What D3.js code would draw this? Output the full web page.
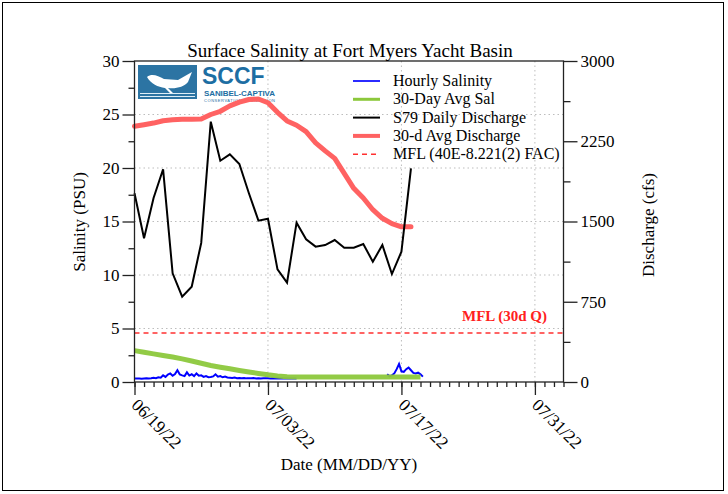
<!DOCTYPE html>
<html>
<head>
<meta charset="utf-8">
<script src="https://cdn.jsdelivr.net/npm/d3@7"></script>
<style>
  body { margin: 0; background: #fff; }
  text { font-family: "Liberation Serif", "Times New Roman", serif; }
</style>
</head>
<body>
<div id="chart"></div>
<script>
// S79 daily discharge (cfs), one value per day from 06/19/22
const dischargeDaily = [
  1764, 1343, 1720, 1988, 1016, 797, 891, 1300, 2433, 2068,
  2128, 2037, 1764, 1508, 1526, 1053, 928, 1489, 1334, 1265,
  1280, 1327, 1255, 1255, 1290, 1124, 1280, 1009, 1218, 1997,
];

// 30-day average discharge (cfs), one value per day from 06/19/22
const dischargeAvg30 = [
  2390, 2405, 2420, 2442, 2450, 2455, 2455, 2458, 2500, 2530,
  2580, 2615, 2640, 2645, 2610, 2520, 2440, 2400, 2340, 2235,
  2160, 2090, 1950, 1810, 1720, 1610, 1530, 1480, 1450, 1450,
];

// 30-day average salinity (PSU), one value per day from 06/19/22
const salAvg30 = [
  2.93, 2.78, 2.63, 2.48, 2.33, 2.16, 1.96, 1.75, 1.54, 1.38,
  1.23, 1.08, 0.94, 0.8, 0.67, 0.57, 0.5, 0.47, 0.46, 0.46,
  0.46, 0.46, 0.46, 0.46, 0.46, 0.46, 0.46, 0.46, 0.46, 0.46, 0.46,
];

// hourly salinity (PSU), sampled every 6 h, two recorded stretches
const hourlyStartA = "2022-06-19T00:00";
const hourlySalA = [
  0.32, 0.32, 0.33, 0.31, 0.33, 0.34, 0.33, 0.35, 0.4, 0.36, 0.44, 0.4,
  0.62, 0.48, 0.7, 0.8, 0.58, 0.74, 1.1, 0.7, 0.62, 0.55, 0.9, 0.6,
  0.72, 0.55, 0.8, 0.58, 0.62, 0.48, 0.56, 0.45, 0.46, 0.52, 0.72, 0.5,
  0.56, 0.44, 0.5, 0.42, 0.4, 0.38, 0.42, 0.36, 0.37, 0.35, 0.38, 0.34,
  0.36, 0.34, 0.37, 0.33, 0.35, 0.33, 0.36, 0.34, 0.35, 0.33, 0.35, 0.33,
  0.34, 0.32, 0.34, 0.33, 0.33, 0.32, 0.33, 0.32, 0.32,
];
const hourlyStartB = "2022-07-15T12:00";
const hourlySalB = [
  0.72, 0.55, 0.62, 0.8, 1.2, 1.68, 1.0, 0.95, 1.2, 1.35,
  1.1, 0.85, 0.8, 0.87, 0.72, 0.5,
];

const mflDischarge = 457;

const dateTicks = ["2022-06-19", "2022-07-03", "2022-07-17", "2022-07-31"];
const salTicks = [0, 5, 10, 15, 20, 25, 30];
const dischargeTicks = [0, 750, 1500, 2250, 3000];

const legendItems = [
  { name: "Hourly Salinity", color: "#2b2bff", width: 2, dash: null },
  { name: "30-Day Avg Sal", color: "#8cc83c", width: 3, dash: null },
  { name: "S79 Daily Discharge", color: "#000", width: 2, dash: null },
  { name: "30-d Avg Discharge", color: "#ff6262", width: 4, dash: null },
  { name: "MFL (40E-8.221(2) FAC)", color: "#ff3030", width: 1.5, dash: "5,4" },
];

const W = 728, H = 494;
const L = 134.5, R = 563.5, T = 61, B = 382;

const parse = d3.timeParse("%Y-%m-%dT%H:%M");
const parseDay = d3.timeParse("%Y-%m-%d");
const start = parseDay("2022-06-19");
const end = parseDay("2022-08-03");

const x = d3.scaleTime().domain([start, end]).range([L, R]);
const ySal = d3.scaleLinear().domain([0, 30]).range([B, T]);
const yQ = d3.scaleLinear().domain([0, 3000]).range([B, T]);

const daily = (arr) => arr.map((v, i) => ({ t: d3.timeDay.offset(start, i), v }));
const sixHourly = (s, arr) =>
  arr.map((v, i) => ({ t: d3.timeHour.offset(parse(s), i * 6), v }));

const svg = d3
  .select("#chart")
  .append("svg")
  .attr("width", W)
  .attr("height", H);

// outer frame
svg
  .append("rect")
  .attr("x", 2.5)
  .attr("y", 2.5)
  .attr("width", 721)
  .attr("height", 488)
  .attr("fill", "none")
  .attr("stroke", "#000");

// grid
const grid = svg.append("g").attr("stroke", "#bdbdbd").attr("stroke-dasharray", "1.5,3");
grid
  .selectAll("line.h")
  .data(salTicks.slice(1, -1))
  .enter()
  .append("line")
  .attr("x1", L)
  .attr("x2", R)
  .attr("y1", (d) => ySal(d))
  .attr("y2", (d) => ySal(d));
grid
  .selectAll("line.v")
  .data(dateTicks.slice(1).map(parseDay))
  .enter()
  .append("line")
  .attr("x1", (d) => x(d))
  .attr("x2", (d) => x(d))
  .attr("y1", T)
  .attr("y2", B);

// logo
const logo = svg.append("g");
logo.append("rect").attr("x", 138).attr("y", 65).attr("width", 59).attr("height", 34).attr("fill", "#2c74a3");
logo
  .append("path")
  .attr("d", "M147,77 C152,73 158,76 164,79 L178,80 L192,72 L188,82 C184,87 176,89 168,88 L174,94 L171,94 L165,88 C158,87 151,84 147,77 Z")
  .attr("fill", "#fff");
[93.5, 96.5].forEach((yy) =>
  logo.append("line").attr("x1", 140).attr("x2", 195).attr("y1", yy).attr("y2", yy).attr("stroke", "#dfeef7").attr("stroke-width", 1)
);
logo
  .append("text")
  .attr("x", 202)
  .attr("y", 84)
  .attr("fill", "#1d6ea3")
  .style("font-family", "'Liberation Sans', Arial, sans-serif")
  .style("font-weight", "bold")
  .style("font-size", "23px")
  .text("SCCF");
logo
  .append("text")
  .attr("x", 204)
  .attr("y", 96)
  .attr("fill", "#1d6ea3")
  .attr("textLength", 71)
  .style("font-family", "'Liberation Sans', Arial, sans-serif")
  .style("font-weight", "bold")
  .style("font-size", "8px")
  .text("SANIBEL-CAPTIVA");
logo
  .append("text")
  .attr("x", 204)
  .attr("y", 102)
  .attr("fill", "#1d6ea3")
  .attr("textLength", 71)
  .style("font-family", "'Liberation Sans', Arial, sans-serif")
  .style("font-size", "4px")
  .text("CONSERVATION FOUNDATION");

// MFL line
svg
  .append("line")
  .attr("x1", L)
  .attr("x2", R)
  .attr("y1", yQ(mflDischarge))
  .attr("y2", yQ(mflDischarge))
  .attr("stroke", "#ff3030")
  .attr("stroke-width", 1.5)
  .attr("stroke-dasharray", "5,4");
svg
  .append("text")
  .attr("x", 547)
  .attr("y", 321)
  .attr("text-anchor", "end")
  .attr("fill", "#ff2020")
  .style("font-weight", "bold")
  .style("font-size", "15px")
  .text("MFL (30d Q)");

const lineQ = d3.line().x((d) => x(d.t)).y((d) => yQ(d.v));
const lineS = d3.line().x((d) => x(d.t)).y((d) => ySal(d.v));

svg
  .append("path")
  .datum(daily(dischargeAvg30))
  .attr("d", lineQ)
  .attr("fill", "none")
  .attr("stroke", "#ff6262")
  .attr("stroke-width", 5)
  .attr("stroke-linejoin", "round")
  .attr("stroke-linecap", "round");

svg
  .append("path")
  .datum(daily(dischargeDaily))
  .attr("d", lineQ)
  .attr("fill", "none")
  .attr("stroke", "#000")
  .attr("stroke-width", 2);

[sixHourly(hourlyStartA, hourlySalA), sixHourly(hourlyStartB, hourlySalB)].forEach((seg) =>
  svg
    .append("path")
    .datum(seg)
    .attr("d", lineS)
    .attr("fill", "none")
    .attr("stroke", "#0000ff")
    .attr("stroke-width", 2)
);

svg
  .append("path")
  .datum(daily(salAvg30))
  .attr("d", lineS)
  .attr("fill", "none")
  .attr("stroke", "#8cc83c")
  .attr("stroke-width", 5)
  .attr("stroke-opacity", 0.95);

// plot box
svg
  .append("rect")
  .attr("x", L)
  .attr("y", T)
  .attr("width", R - L)
  .attr("height", B - T)
  .attr("fill", "none")
  .attr("stroke", "#222")
  .attr("stroke-width", 1.3);

// axes
const styleAxis = (g) => {
  g.select(".domain").remove();
  g.selectAll("line").attr("stroke", "#222").attr("stroke-width", 1.3);
  g.selectAll("text").style("font-family", "'Liberation Serif', serif").style("font-size", "17px").attr("fill", "#000");
};

svg
  .append("g")
  .attr("transform", `translate(${L},0)`)
  .call(d3.axisLeft(ySal).tickValues(d3.range(2.5, 30, 5)).tickSize(6).tickFormat(""))
  .call(styleAxis);
svg
  .append("g")
  .attr("transform", `translate(${L},0)`)
  .call(d3.axisLeft(ySal).tickValues(salTicks).tickSize(12).tickPadding(3))
  .call(styleAxis);

svg
  .append("g")
  .attr("transform", `translate(${R},0)`)
  .call(d3.axisRight(yQ).tickValues(d3.range(375, 3000, 750)).tickSize(7).tickFormat(""))
  .call(styleAxis);
svg
  .append("g")
  .attr("transform", `translate(${R},0)`)
  .call(d3.axisRight(yQ).tickValues(dischargeTicks).tickSize(14).tickPadding(3).tickFormat(d3.format("d")))
  .call(styleAxis);

svg
  .append("g")
  .attr("transform", `translate(0,${B})`)
  .call(d3.axisBottom(x).tickValues(d3.timeDay.range(start, d3.timeDay.offset(end, 1))).tickSize(5).tickFormat(""))
  .call(styleAxis);
svg
  .append("g")
  .attr("transform", `translate(0,${B})`)
  .call(d3.axisBottom(x).tickValues(dateTicks.map(parseDay)).tickSize(13).tickFormat(""))
  .call(styleAxis);

const fmt = d3.timeFormat("%m/%d/%y");
svg
  .selectAll(".date-label")
  .data(dateTicks.map(parseDay))
  .enter()
  .append("text")
  .attr("class", "date-label")
  .attr("transform", (d) => `translate(${x(d) - 4},${B + 24}) rotate(45)`)
  .style("font-size", "17.5px")
  .text((d) => fmt(d));

// titles
svg
  .append("text")
  .attr("x", 350)
  .attr("y", 57)
  .attr("text-anchor", "middle")
  .style("font-size", "19px")
  .text("Surface Salinity at Fort Myers Yacht Basin");
svg
  .append("text")
  .attr("transform", "translate(85,222) rotate(-90)")
  .attr("text-anchor", "middle")
  .style("font-size", "17px")
  .text("Salinity (PSU)");
svg
  .append("text")
  .attr("transform", "translate(654,225) rotate(-90)")
  .attr("text-anchor", "middle")
  .style("font-size", "17px")
  .text("Discharge (cfs)");
svg
  .append("text")
  .attr("x", 349)
  .attr("y", 470)
  .attr("text-anchor", "middle")
  .style("font-size", "17px")
  .text("Date (MM/DD/YY)");

// legend
const legend = svg
  .selectAll(".legend-item")
  .data(legendItems)
  .enter()
  .append("g")
  .attr("class", "legend-item")
  .attr("transform", (d, i) => `translate(353,${81 + i * 18.3})`);
legend
  .append("line")
  .attr("x1", 0)
  .attr("x2", 27)
  .attr("stroke", (d) => d.color)
  .attr("stroke-width", (d) => d.width)
  .attr("stroke-dasharray", (d) => d.dash);
legend
  .append("text")
  .attr("x", 40)
  .attr("y", 5)
  .style("font-size", "16px")
  .text((d) => d.name);
</script>
</body>
</html>
